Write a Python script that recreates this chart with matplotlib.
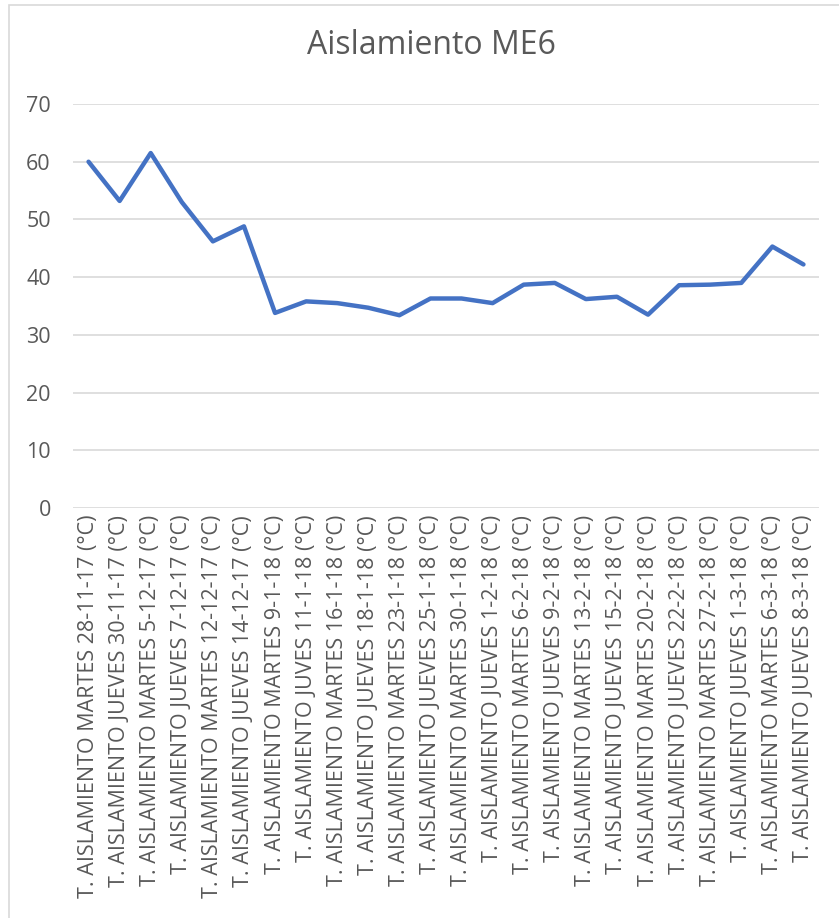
import matplotlib
matplotlib.use("Agg")
import matplotlib.pyplot as plt
from matplotlib.patches import Rectangle

categories = [
    "T. AISLAMIENTO MARTES 28-11-17 (°C)",
    "T. AISLAMIENTO JUEVES 30-11-17 (°C)",
    "T. AISLAMIENTO MARTES 5-12-17 (°C)",
    "T. AISLAMIENTO JUEVES 7-12-17 (°C)",
    "T. AISLAMIENTO MARTES 12-12-17 (°C)",
    "T. AISLAMIENTO JUEVES 14-12-17 (°C)",
    "T. AISLAMIENTO MARTES 9-1-18 (°C)",
    "T. AISLAMIENTO JUVES 11-1-18 (°C)",
    "T. AISLAMIENTO MARTES 16-1-18 (°C)",
    "T. AISLAMIENTO JUEVES 18-1-18 (°C)",
    "T. AISLAMIENTO MARTES 23-1-18 (°C)",
    "T. AISLAMIENTO JUEVES 25-1-18 (°C)",
    "T. AISLAMIENTO MARTES 30-1-18 (°C)",
    "T. AISLAMIENTO JUEVES 1-2-18 (°C)",
    "T. AISLAMIENTO MARTES 6-2-18 (°C)",
    "T. AISLAMIENTO JUEVES 9-2-18 (°C)",
    "T. AISLAMIENTO MARTES 13-2-18 (°C)",
    "T. AISLAMIENTO JUEVES 15-2-18 (°C)",
    "T. AISLAMIENTO MARTES 20-2-18 (°C)",
    "T. AISLAMIENTO JUEVES 22-2-18 (°C)",
    "T. AISLAMIENTO MARTES 27-2-18 (°C)",
    "T. AISLAMIENTO JUEVES 1-3-18 (°C)",
    "T. AISLAMIENTO MARTES 6-3-18 (°C)",
    "T. AISLAMIENTO JUEVES 8-3-18 (°C)",
]
values = [60.0, 53.2, 61.5, 53.0, 46.2, 48.8, 33.8, 35.8, 35.5, 34.7, 33.4, 36.3,
          36.3, 35.5, 38.7, 39.0, 36.2, 36.6, 33.5, 38.6, 38.7, 39.0, 45.3, 42.2]
yticks = [0, 10, 20, 30, 40, 50, 60, 70]
title = "Aislamiento ME6"

plt.rcParams['font.family'] = ['Open Sans', 'DejaVu Sans']
W, H = 839, 918
fig = plt.figure(figsize=(W / 100, H / 100), dpi=100)
ax = fig.add_axes([73 / W, 1 - 508 / H, (819 - 73) / W, (508 - 104) / H])

x = list(range(len(categories)))
ax.plot(x, values, color="#4472C4", linewidth=3.2, solid_capstyle="round",
        solid_joinstyle="round", zorder=3)

ax.set_xlim(-0.5, len(categories) - 0.5)
ax.set_ylim(0, 70)
ax.set_yticks(yticks)
ax.set_yticklabels([str(v) for v in yticks], fontsize=15.5, color="#595959")
ax.set_xticks(x)
ax.set_xticklabels(categories, rotation=90, fontsize=15.5, color="#595959",
                   ha="center", va="top")
ax.tick_params(axis="both", length=0)
ax.tick_params(axis="y", pad=16)
ax.tick_params(axis="x", pad=5)
ax.grid(axis="y", color="#D9D9D9", linewidth=1.2, zorder=0)
for s in ax.spines.values():
    s.set_visible(False)

fig.text(431 / W, 1 - 46 / H, title, fontsize=23, color="#595959",
         ha="center", va="center")

fig.patches.append(Rectangle((9 / W, -0.01), 1.0, 1 - 5 / H + 0.01,
                             transform=fig.transFigure, fill=False,
                             edgecolor="#D9D9D9", linewidth=1.2))

fig.savefig("out.png", dpi=100)
